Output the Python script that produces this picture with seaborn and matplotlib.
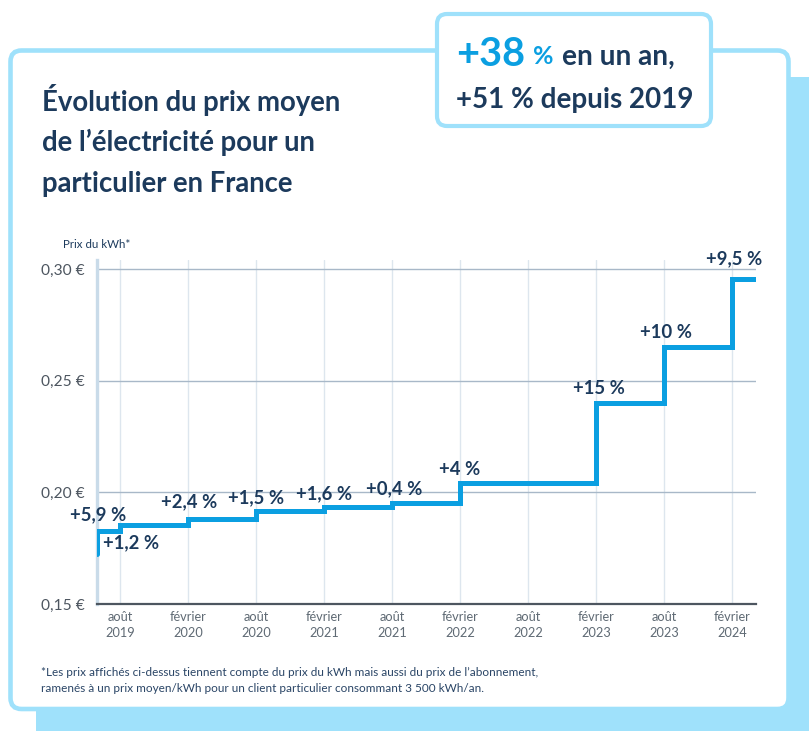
import matplotlib
matplotlib.use("Agg")
import matplotlib.pyplot as plt
from matplotlib.patches import FancyBboxPatch, Rectangle
from matplotlib.transforms import IdentityTransform
import pandas as pd
import seaborn as sns

# ---------------- data ----------------
change_dates = ["2019-06", "2019-08", "2020-02", "2020-08", "2021-02",
                "2021-08", "2022-02", "2023-02", "2023-08", "2024-02"]
end_date = "2024-04"
price_before = 0.1725
prices = [0.1827, 0.1852, 0.1882, 0.1918, 0.1936,
          0.1953, 0.2040, 0.2401, 0.2649, 0.2953]
change_labels = ["+5,9 %", "+1,2 %", "+2,4 %", "+1,5 %", "+1,6 %",
                 "+0,4 %", "+4 %", "+15 %", "+10 %", "+9,5 %"]
tick_dates = ["2019-08", "2020-02", "2020-08", "2021-02", "2021-08",
              "2022-02", "2022-08", "2023-02", "2023-08", "2024-02"]
tick_labels = ["août\n2019", "février\n2020", "août\n2020", "février\n2021",
               "août\n2021", "février\n2022", "août\n2022", "février\n2023",
               "août\n2023", "février\n2024"]
y_ticks = [0.15, 0.20, 0.25, 0.30]
y_tick_labels = ["0,15 €", "0,20 €", "0,25 €", "0,30 €"]

# label offsets in pixels (dx, dy) relative to the new level at each change
label_offsets = [(1, 16), (11, -17), (1, 17), (0, 13), (0, 13),
                 (2, 14), (0, 14), (3, 14), (2, 15), (2, 21)]

# ---------------- helpers ----------------
ref = pd.Period("2019-08", freq="M")


def months(d):
    return (pd.Period(d, freq="M") - ref).n


xs = [months(change_dates[0])] + [months(d) for d in change_dates] + [months(end_date) + 0.1]
ys = [price_before] + prices + [prices[-1]]
df = pd.DataFrame({"mois": xs, "prix": ys})

W, H = 809, 731
NAVY = "#1c3a5c"
BLUE = "#0b9fe1"
LIGHT = "#9fe1fb"

sns.set_style("white")
plt.rcParams["font.family"] = ["Lato", "DejaVu Sans"]

fig = plt.figure(figsize=(W / 100, H / 100), dpi=100)
fig.patch.set_facecolor("white")

ident = IdentityTransform()
# shadow
fig.patches.append(Rectangle((36, 0), W - 36, H - 77, transform=ident,
                             facecolor=LIGHT, edgecolor="none", zorder=0.5))
# card
fig.patches.append(FancyBboxPatch((10.5, H - 709), 778, 658.5,
                                  boxstyle="round,pad=0,rounding_size=11",
                                  transform=ident, facecolor="white",
                                  edgecolor=LIGHT, linewidth=3.3, zorder=1))
# callout
fig.patches.append(FancyBboxPatch((437, H - 126), 274, 112,
                                  boxstyle="round,pad=0,rounding_size=10",
                                  transform=ident, facecolor="white",
                                  edgecolor=LIGHT, linewidth=3.0, zorder=1.5))

# axes
x0, x1 = 97.3, 756
ytop, ybot = 260, 604
ax = fig.add_axes([x0 / W, (H - ybot) / H, (x1 - x0) / W, (ybot - ytop) / H])
ax.set_zorder(3)
ax.patch.set_alpha(0)

tick_x = [months(d) for d in tick_dates]
ax.set_xlim(-2, months(end_date) + 0.1)
ax.set_ylim(0.15, 0.304)

for t in tick_x:
    ax.axvline(t, color="#dde6ee", lw=1.0, zorder=0)
for yv in y_ticks[1:]:
    ax.axhline(yv, color="#a8b8c8", lw=1.0, zorder=0)

sns.lineplot(data=df, x="mois", y="prix", ax=ax, sort=False, estimator=None,
             drawstyle="steps-post", color=BLUE, lw=3.6,
             solid_capstyle="round", solid_joinstyle="miter", zorder=3)

ax.set_xticks(tick_x)
ax.set_xticklabels(tick_labels, fontsize=9.2, color="#5f6a74", linespacing=1.4)
ax.set_yticks(y_ticks)
ax.set_yticklabels(y_tick_labels, fontsize=11.2, color="#4d5660")
ax.tick_params(axis="x", length=0, pad=5)
ax.tick_params(axis="y", length=0, pad=9)
ax.set_xlabel("")
ax.set_ylabel("")
for s in ["top", "right"]:
    ax.spines[s].set_visible(False)
ax.spines["bottom"].set_color("#4d5660")
ax.spines["bottom"].set_linewidth(1.6)
ax.spines["left"].set_color("#c9dbe9")
ax.spines["left"].set_linewidth(2.4)

for d, p, lab, (dx, dy) in zip(change_dates, prices, change_labels, label_offsets):
    ax.annotate(lab, (months(d), p), xytext=(dx, dy), textcoords="offset pixels",
                ha="center", va="center", fontsize=13.3, fontweight="bold",
                color=NAVY, zorder=5)


def ftext(x, y, s, **kw):
    fig.text(x / W, 1 - y / H, s, **kw)


# title
for i, line in enumerate(["Évolution du prix moyen",
                          "de l’électricité pour un",
                          "particulier en France"]):
    ftext(42, 100 + 42 * i, line, fontsize=19.8, fontweight="bold",
          color=NAVY, va="center", ha="left")

# callout
ftext(456, 54, "+38", fontsize=28.5, fontweight="bold", color=BLUE, va="center", ha="left")
ftext(533, 57, "%", fontsize=18, fontweight="bold", color=BLUE, va="center", ha="left")
ftext(562, 57, "en un an,", fontsize=20.2, fontweight="bold", color=NAVY, va="center", ha="left")
ftext(456, 100, "+51 % depuis 2019", fontsize=20, fontweight="bold", color=NAVY,
      va="center", ha="left")

# axis caption
ftext(63, 245, "Prix du kWh*", fontsize=8.3, color=NAVY, va="center", ha="left")

# footnote
ftext(41, 672, "*Les prix affichés ci-dessus tiennent compte du prix du kWh mais aussi du prix de l’abonnement,",
      fontsize=8.45, color="#2a4566", va="center", ha="left")
ftext(41, 688, "ramenés à un prix moyen/kWh pour un client particulier consommant 3 500 kWh/an.",
      fontsize=8.45, color="#2a4566", va="center", ha="left")

fig.savefig("out.png", dpi=100)
